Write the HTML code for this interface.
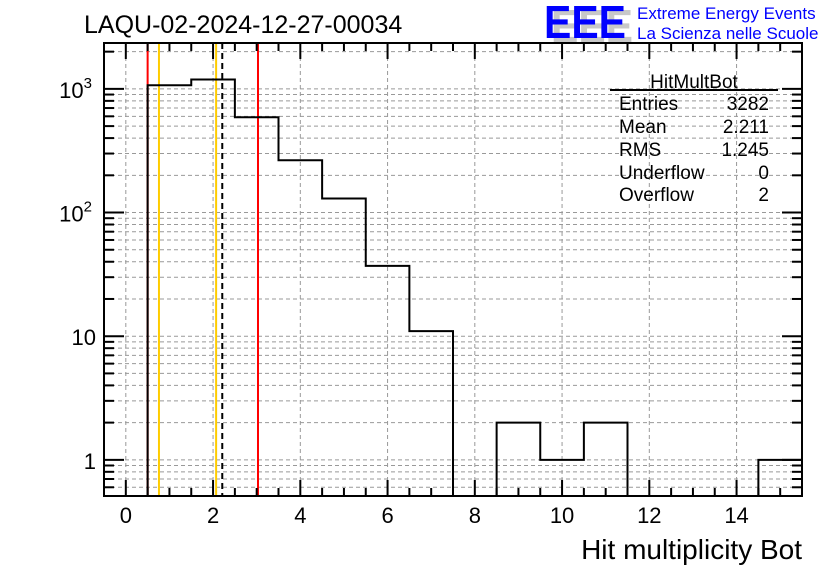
<!DOCTYPE html>
<html><head><meta charset="utf-8"><style>
html,body{margin:0;padding:0;background:#fff;}
svg{display:block;font-family:"Liberation Sans",Arial,sans-serif;}
</style></head><body>
<svg id="c" width="836" height="572" viewBox="0 0 836 572">
<rect width="836" height="572" fill="#fff"/>
<g id="grid"></g>
<g id="lines"></g>
<g id="hist"></g>
<g id="axes"></g>
<text x="84" y="33" font-size="25">LAQU-02-2024-12-27-00034</text>
<g>
<text x="551" y="42" font-size="46" font-weight="bold" fill="#c8c8c8" textLength="82" lengthAdjust="spacingAndGlyphs">EEE</text>
<text x="544" y="38" font-size="46" font-weight="bold" fill="#0000ff" textLength="82" lengthAdjust="spacingAndGlyphs">EEE</text>
<text x="637" y="19" font-size="17" fill="#0000ff">Extreme Energy Events</text>
<text x="637" y="39" font-size="17" fill="#0000ff">La Scienza nelle Scuole</text>
</g>
<g>
<text x="694" y="88" font-size="19" text-anchor="middle">HitMultBot</text>
<line x1="610" y1="90" x2="778" y2="90" stroke="#000" stroke-width="2"/>
<g font-size="19">
<text x="619" y="110">Entries</text><text x="769" y="110" text-anchor="end">3282</text>
<text x="619" y="133">Mean</text><text x="769" y="133" text-anchor="end">2.211</text>
<text x="619" y="156">RMS</text><text x="769" y="156" text-anchor="end">1.245</text>
<text x="619" y="179">Underflow</text><text x="769" y="179" text-anchor="end">0</text>
<text x="619" y="201">Overflow</text><text x="769" y="201" text-anchor="end">2</text>
</g></g>
<text x="802" y="559" font-size="28" text-anchor="end">Hit multiplicity Bot</text>
</svg>
<script>
const binLow = [-0.5,0.5,1.5,2.5,3.5,4.5,5.5,6.5,7.5,8.5,9.5,10.5,11.5,12.5,13.5,14.5];
const counts = [0,1070,1190,590,265,130,37,11,0,2,1,2,0,0,0,1];
const xTicks = [0,2,4,6,8,10,12,14];
const yTicks = [1,10,100,1000];
const yTickLabels = ["1","10","10²","10³"];
const redLines = [0.5,3.03];
const orangeLines = [0.76,2.07];
const meanValue = 2.211;

const L=104,R=802,T=43,B=496,xmin=-0.5,xmax=15.5,ymin=0.51,ymax=2350;
const X=v=>L+(v-xmin)/(xmax-xmin)*(R-L);
const Y=v=>B-(Math.log10(v)-Math.log10(ymin))/(Math.log10(ymax)-Math.log10(ymin))*(B-T);
const NS="http://www.w3.org/2000/svg";
function mk(p,tag,a){const e=document.createElementNS(NS,tag);for(const k in a)e.setAttribute(k,a[k]);p.appendChild(e);return e;}
const grid=document.getElementById('grid'),axes=document.getElementById('axes'),lines=document.getElementById('lines'),hist=document.getElementById('hist');
xTicks.forEach(t=>{const e=mk(grid,'line',{x1:X(t),x2:X(t),y1:T,y2:B,stroke:'#999','stroke-dasharray':'4,3','stroke-width':1});

});
for(let d=-1;d<4;d++)for(let m=1;m<10;m++){const v=m*Math.pow(10,d);if(v<ymin||v>ymax)continue;
const e=mk(grid,'line',{x1:L,x2:R,y1:Y(v),y2:Y(v),stroke:'#999','stroke-dasharray':'4,3','stroke-width':1});

}
redLines.forEach(v=>{const e=mk(lines,'line',{x1:X(v),x2:X(v),y1:T,y2:B,stroke:'#ff0000','stroke-width':2});

});
orangeLines.forEach(v=>{const e=mk(lines,'line',{x1:X(v),x2:X(v),y1:T,y2:B,stroke:'#ffcc00','stroke-width':2});

});
{const e=mk(lines,'line',{x1:X(meanValue),x2:X(meanValue),y1:T,y2:B,stroke:'#000','stroke-width':2,'stroke-dasharray':'6,4'});

}
let d='',prev=null;
binLow.forEach((lo,i)=>{const c=counts[i];const yy=c>0?Math.max(T,Y(c)):B;const x0=X(lo),x1=X(lo+1);
if(prev===null)d+=`M${x0},${yy}`;else d+=`L${x0},${yy}`;d+=`L${x1},${yy}`;prev=yy;});
{const e=mk(hist,'path',{d:d,fill:'none',stroke:'#000','stroke-width':2});

}
mk(axes,'rect',{x:L,y:T,width:R-L,height:B-T,fill:'none',stroke:'#000','stroke-width':2});
for(let v=-0.5;v<=15.5;v+=0.5){const major=Math.abs(v/2-Math.round(v/2))<1e-9;const len=major?16:8;
mk(axes,'line',{x1:X(v),x2:X(v),y1:B,y2:B-len,stroke:'#000','stroke-width':2});
mk(axes,'line',{x1:X(v),x2:X(v),y1:T,y2:T+len,stroke:'#000','stroke-width':2});}
xTicks.forEach(t=>{const e=mk(axes,'text',{x:X(t),y:B+27,'font-size':22,'text-anchor':'middle'});e.textContent=t;

});
for(let dd=-1;dd<4;dd++)for(let m=1;m<10;m++){const v=m*Math.pow(10,dd);if(v<ymin||v>ymax)continue;const len=m===1?20:10;
mk(axes,'line',{x1:L,x2:L+len,y1:Y(v),y2:Y(v),stroke:'#000','stroke-width':2});
mk(axes,'line',{x1:R,x2:R-len,y1:Y(v),y2:Y(v),stroke:'#000','stroke-width':2});}
yTicks.forEach((t,i)=>{const lab=yTickLabels[i];let e;
if(lab.indexOf('10')===0&&lab.length>2){e=mk(axes,'text',{x:L-12,y:Y(t)+9,'font-size':22,'text-anchor':'end'});
const s=lab.slice(2)==='³'?'3':'2';e.innerHTML='10<tspan dy="-10" font-size="15">'+s+'</tspan>';}
else{e=mk(axes,'text',{x:L-8,y:Y(t)+9,'font-size':22,'text-anchor':'end'});e.textContent=lab;}

});
</script>
</body></html>
